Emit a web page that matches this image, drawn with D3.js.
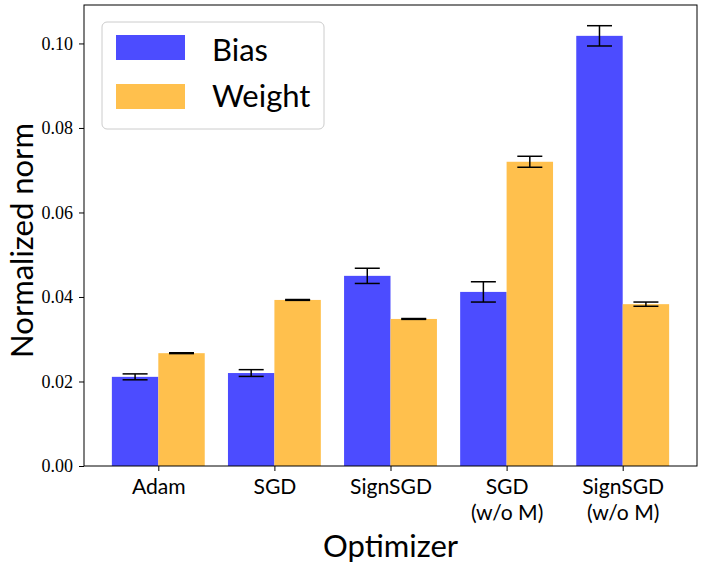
<!DOCTYPE html>
<html>
<head>
<meta charset="utf-8">
<script src="https://cdn.jsdelivr.net/npm/d3@7"></script>
<style>
  body { margin: 0; background: #fff; }
  svg text { fill: #000; }
</style>
</head>
<body>
<div id="chart"></div>
<script>
const optimizers = ["Adam", "SGD", "SignSGD", "SGD\n(w/o M)", "SignSGD\n(w/o M)"];
const biasValues = [0.0211, 0.0220, 0.0450, 0.0412, 0.1018];
const biasErrors = [0.0007, 0.0008, 0.0018, 0.0024, 0.0024];
const weightValues = [0.0267, 0.0393, 0.0348, 0.0720, 0.0383];
const weightErrors = [0.0001, 0.0001, 0.0001, 0.0013, 0.0005];
const yTicks = [0, 0.02, 0.04, 0.06, 0.08, 0.10];
const seriesNames = ["Bias", "Weight"];
const seriesColors = ["#4c4cff", "#ffc04d"];

const width = 709, height = 568;
const margin = { top: 5, right: 12, bottom: 102, left: 84 };
const plotW = width - margin.left - margin.right;
const plotH = height - margin.top - margin.bottom;
const sansFont = "Lato, sans-serif";
const serifFont = "'Liberation Serif', serif";

// squeeze text horizontally a little, the original sans face is narrower
function squeeze(sel, k) {
    sel.each(function () {
        const w = this.getComputedTextLength();
        d3.select(this)
            .attr("textLength", w * k)
            .attr("lengthAdjust", "spacingAndGlyphs");
    });
}

const svg = d3.select("#chart")
    .append("svg")
    .attr("width", width)
    .attr("height", height)
    .append("g")
    .attr("transform", `translate(${margin.left},${margin.top})`);

// matplotlib-like limits: bars span -0.4..4.4, plus 5% margin
const x = d3.scaleLinear().domain([-0.64, 4.64]).range([0, plotW]);
const y = d3.scaleLinear().domain([0, 0.1091]).range([plotH, 0]);
const barW = 0.4;

const series = [
    { name: seriesNames[0], values: biasValues, errors: biasErrors, offset: -0.2, color: seriesColors[0] },
    { name: seriesNames[1], values: weightValues, errors: weightErrors, offset: 0.2, color: seriesColors[1] }
];

series.forEach(s => {
    const g = svg.append("g");
    g.selectAll("rect")
        .data(s.values)
        .enter()
        .append("rect")
        .attr("x", (d, i) => x(i + s.offset - barW / 2))
        .attr("width", x(barW) - x(0))
        .attr("y", d => y(d))
        .attr("height", d => y(0) - y(d))
        .attr("fill", s.color);

    // error bars
    const eb = g.selectAll(".err")
        .data(s.values.map((v, i) => ({ v, e: s.errors[i], i })))
        .enter()
        .append("g");
    eb.append("line")
        .attr("x1", d => x(d.i + s.offset))
        .attr("x2", d => x(d.i + s.offset))
        .attr("y1", d => y(d.v - d.e))
        .attr("y2", d => y(d.v + d.e))
        .attr("stroke", "#000")
        .attr("stroke-width", 1.5);
    [-1, 1].forEach(sign => {
        eb.append("line")
            .attr("x1", d => x(d.i + s.offset) - 12.5)
            .attr("x2", d => x(d.i + s.offset) + 12.5)
            .attr("y1", d => y(d.v + sign * d.e))
            .attr("y2", d => y(d.v + sign * d.e))
            .attr("stroke", "#000")
            .attr("stroke-width", 1.5);
    });
});

// frame
svg.append("rect")
    .attr("width", plotW)
    .attr("height", plotH)
    .attr("fill", "none")
    .attr("stroke", "#000")
    .attr("stroke-width", 1);

// y axis
const yAxis = svg.append("g")
    .call(d3.axisLeft(y).tickValues(yTicks).tickFormat(d3.format(".2f")).tickSize(5).tickPadding(6));
yAxis.select(".domain").remove();
yAxis.selectAll("text").attr("font-family", serifFont).attr("font-size", "18px");

// x axis
const xAxis = svg.append("g")
    .attr("transform", `translate(0,${plotH})`)
    .call(d3.axisBottom(x).tickValues(d3.range(optimizers.length)).tickFormat("").tickSize(5));
xAxis.select(".domain").remove();
xAxis.selectAll(".tick").each(function (d) {
    const t = d3.select(this).append("text")
        .attr("text-anchor", "middle")
        .attr("font-family", sansFont)
        .attr("font-size", "22px")
        .attr("fill", "#000");
    optimizers[d].split("\n").forEach((line, k) => {
        t.append("tspan").attr("x", 0).attr("y", 28 + k * 26).text(line);
    });
});
squeeze(xAxis.selectAll("tspan"), 0.96);

// axis labels
svg.append("text")
    .attr("x", plotW / 2)
    .attr("y", plotH + 91)
    .attr("text-anchor", "middle")
    .attr("font-family", sansFont)
    .attr("font-size", "31px")
    .text("Optimizer");

svg.append("text")
    .attr("transform", `translate(${-margin.left + 33},${plotH / 2 + 5}) rotate(-90)`)
    .attr("text-anchor", "middle")
    .attr("font-family", sansFont)
    .attr("font-size", "31px")
    .text("Normalized norm");

// legend
const legend = svg.append("g").attr("transform", `translate(${102 - margin.left},${22 - margin.top})`);
legend.append("rect")
    .attr("width", 222)
    .attr("height", 107)
    .attr("rx", 5)
    .attr("fill", "#fff")
    .attr("fill-opacity", 0.8)
    .attr("stroke", "#ccc");
series.forEach((s, k) => {
    legend.append("rect")
        .attr("x", 14)
        .attr("y", 13 + k * 49)
        .attr("width", 69)
        .attr("height", 25)
        .attr("fill", s.color);
    legend.append("text")
        .attr("x", 110)
        .attr("y", 39 + k * 46)
        .attr("font-family", sansFont)
        .attr("font-size", "31px")
        .text(s.name);
});
</script>
</body>
</html>
